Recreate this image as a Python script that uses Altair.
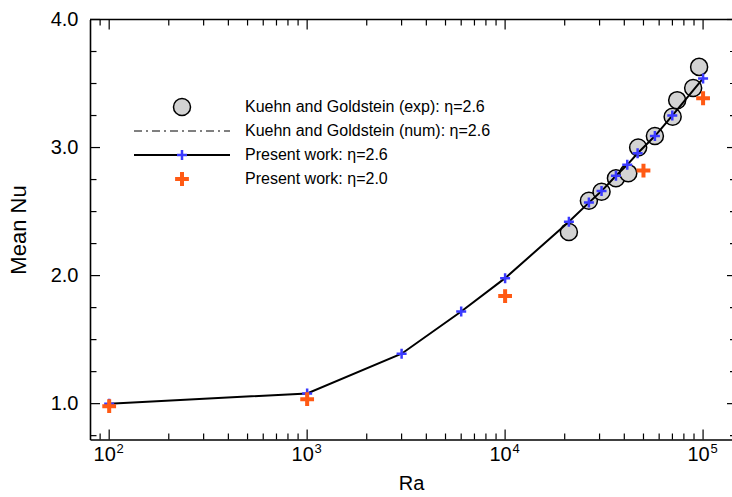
import altair as alt
import pandas as pd

# ---------------- data ----------------
ra_exp = [21000, 26500, 30700, 36300, 41900, 47000, 57100, 70200, 74000, 89100, 95500]
nu_exp = [2.34, 2.585, 2.655, 2.76, 2.80, 3.00, 3.09, 3.24, 3.37, 3.465, 3.63]

ra_p26 = [100, 1000, 3000, 6000, 10000, 21000, 26500, 30700, 36300, 41400, 46700, 57100, 69900, 100000]
nu_p26 = [1.00, 1.08, 1.39, 1.72, 1.98, 2.42, 2.57, 2.66, 2.78, 2.865, 2.955, 3.09, 3.25, 3.54]

ra_p20 = [100, 1000, 10000, 50000, 100000]
nu_p20 = [0.98, 1.035, 1.84, 2.82, 3.385]

x_major_ticks = [100, 1000, 10000, 100000]
x_exponents = ["2", "3", "4", "5"]
x_minor_ticks = [90, 200, 300, 400, 500, 600, 700, 800, 900,
                 2000, 3000, 4000, 5000, 6000, 7000, 8000, 9000,
                 20000, 30000, 40000, 50000, 60000, 70000, 80000, 90000]
y_major_ticks = [1.0, 2.0, 3.0, 4.0]
y_minor_ticks = [0.75, 1.25, 1.5, 1.75, 2.25, 2.5, 2.75, 3.25, 3.5, 3.75]

legend_labels = [
    "Kuehn and Goldstein (exp): \u03b7=2.6",
    "Kuehn and Goldstein (num): \u03b7=2.6",
    "Present work: \u03b7=2.6",
    "Present work: \u03b7=2.0",
]

# ---------------- styling ----------------
W, H = 642, 420
FONT = "Liberation Sans"
BLUE = "#3a3aff"
ORANGE = "#ff5a14"
PLUS = "M-1,0L1,0M0,-1L0,1"

xscale = alt.Scale(type="log", domain=[80, 140000], nice=False)
yscale = alt.Scale(domain=[0.72, 4.0], nice=False, zero=False)

df_exp = pd.DataFrame({"Ra": ra_exp, "Nu": nu_exp})
df_p26 = pd.DataFrame({"Ra": ra_p26, "Nu": nu_p26})
df_p20 = pd.DataFrame({"Ra": ra_p20, "Nu": nu_p20})
df_exp_lab = pd.DataFrame({"Ra": x_major_ticks, "e": x_exponents})

x_axis = alt.Axis(
    values=x_major_ticks, labelExpr="'10'", labelOffset=-5,
    ticks=False, grid=False, domainColor="black", domainWidth=1.6,
    labelFont=FONT, labelFontSize=20, labelColor="black", labelPadding=5,
    title="Ra", titleFont=FONT, titleFontSize=20, titleFontWeight="normal",
    titleColor="black", titlePadding=9,
)
y_axis = alt.Axis(
    values=y_major_ticks, format=".1f",
    ticks=False, grid=False, domainColor="black", domainWidth=1.6,
    labelFont=FONT, labelFontSize=20, labelColor="black", labelPadding=12,
    title="Mean Nu", titleFont=FONT, titleFontSize=22, titleFontWeight="normal",
    titleColor="black", titlePadding=20,
)

X = lambda f: alt.X(f, scale=xscale, axis=x_axis, title="Ra")
Y = lambda f: alt.Y(f, scale=yscale, axis=y_axis, title="Mean Nu")

circles = alt.Chart(df_exp).mark_point(
    shape="circle", filled=True, fill="#d3d3d3", stroke="black",
    strokeWidth=1.5, size=290, opacity=1,
).encode(x=X("Ra:Q"), y=Y("Nu:Q"))

line = alt.Chart(df_p26).mark_line(color="black", strokeWidth=2).encode(
    x=X("Ra:Q"), y=Y("Nu:Q"))

plus26 = alt.Chart(df_p26).mark_point(
    shape=PLUS, filled=False, stroke=BLUE, strokeWidth=2.5, size=100, opacity=1,
).encode(x=X("Ra:Q"), y=Y("Nu:Q"))

plus20 = alt.Chart(df_p20).mark_point(
    shape=PLUS, filled=False, stroke=ORANGE, strokeWidth=4, size=190, opacity=1,
).encode(x=X("Ra:Q"), y=Y("Nu:Q"))

# superscript exponents of the x tick labels
exps = alt.Chart(df_exp_lab).mark_text(
    font=FONT, fontSize=13, color="black", align="center", baseline="middle", dx=11,
).encode(x=X("Ra:Q"), y=alt.value(H + 9), text="e:N")

# ---------------- ticks (inward, mirrored) ----------------
def xticks(vals, y0, y1):
    return alt.Chart(pd.DataFrame({"Ra": vals})).mark_rule(color="black", strokeWidth=1.2).encode(
        x=X("Ra:Q"), y=alt.value(y0), y2=alt.value(y1))

def yticks(vals, x0, x1):
    return alt.Chart(pd.DataFrame({"Nu": vals})).mark_rule(color="black", strokeWidth=1.2).encode(
        y=Y("Nu:Q"), x=alt.value(x0), x2=alt.value(x1))

ticks = [
    xticks(x_major_ticks, H, H - 10), xticks(x_minor_ticks, H, H - 6),
    xticks(x_major_ticks, 0, 10), xticks(x_minor_ticks, 0, 6),
    yticks(y_major_ticks, 0, 10), yticks(y_minor_ticks, 0, 6.5),
    yticks(y_major_ticks, W - 5, W), yticks(y_minor_ticks, W - 2, W),
]

one = alt.Data(values=[{"a": 1}])
top_spine = alt.Chart(one).mark_rule(color="black", strokeWidth=1.6).encode(
    x=alt.value(0), x2=alt.value(W), y=alt.value(0))

# ---------------- manual legend ----------------
rows_y = [87.5, 111.5, 135.5, 159.5]
sym_x = 92
txt_x = 155

leg = []
for lbl, ry in zip(legend_labels, rows_y):
    leg.append(alt.Chart(alt.Data(values=[{"label": lbl}])).mark_text(
        align="left", baseline="middle", font=FONT, fontSize=16, color="black",
    ).encode(x=alt.value(txt_x), y=alt.value(ry), text="label:N"))

leg.append(alt.Chart(one).mark_point(
    shape="circle", filled=True, fill="#d3d3d3", stroke="black", strokeWidth=1.5,
    size=290, opacity=1).encode(x=alt.value(sym_x), y=alt.value(rows_y[0])))
leg.append(alt.Chart(one).mark_rule(color="black", strokeWidth=1, strokeDash=[8, 4, 2, 4]).encode(
    x=alt.value(44), x2=alt.value(140), y=alt.value(rows_y[1])))
leg.append(alt.Chart(one).mark_rule(color="black", strokeWidth=2).encode(
    x=alt.value(44), x2=alt.value(140), y=alt.value(rows_y[2])))
leg.append(alt.Chart(one).mark_point(
    shape=PLUS, filled=False, stroke=BLUE, strokeWidth=2.5, size=100, opacity=1).encode(
    x=alt.value(sym_x), y=alt.value(rows_y[2])))
leg.append(alt.Chart(one).mark_point(
    shape=PLUS, filled=False, stroke=ORANGE, strokeWidth=4, size=190, opacity=1).encode(
    x=alt.value(sym_x), y=alt.value(rows_y[3])))

chart = alt.layer(circles, line, plus26, plus20, exps, top_spine, *ticks, *leg).properties(
    width=W, height=H,
    autosize=alt.AutoSizeParams(type="none"),
    padding={"left": 90, "top": 19.5, "right": 0, "bottom": 57.5},
    background="white",
).configure_view(stroke=None)

chart.save("out.html", embed_options={"renderer": "svg", "actions": False})
